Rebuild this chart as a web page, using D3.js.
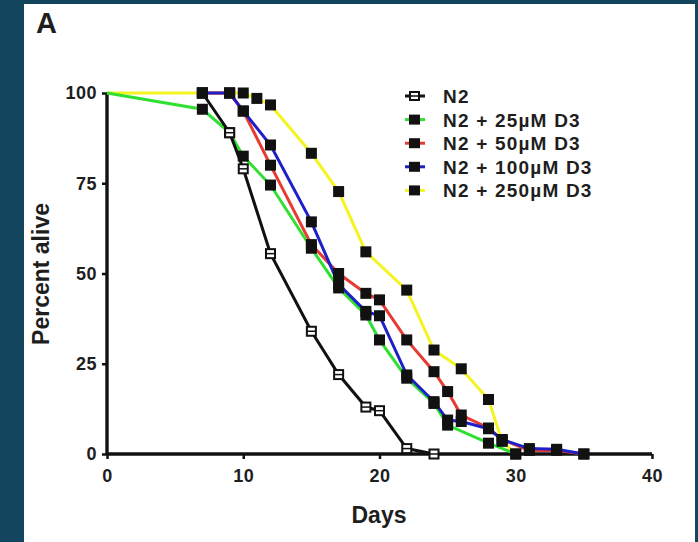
<!DOCTYPE html>
<html>
<head>
<meta charset="utf-8">
<script src="https://cdn.jsdelivr.net/npm/d3@7"></script>
<style>
  body { margin: 0; background: #14455f; }
  svg { display: block; }
  text { font-family: "Liberation Sans", Arial, sans-serif; font-weight: bold; fill: #1e1e1e; }
</style>
</head>
<body>
<div id="container"></div>
<script>
// survival data (day, percent alive)
const seriesNames = ['N2', 'N2 + 25\u00b5M D3', 'N2 + 50\u00b5M D3', 'N2 + 100\u00b5M D3', 'N2 + 250\u00b5M D3'];
const seriesColors = ['#111111', '#30e030', '#e63a32', '#1f1fc8', '#f4f420'];

const n2 = [[7,100],[9,89],[10,79],[12,55.5],[15,34],[17,22],[19,13],[20,12],[22,1.5],[24,0]];
const d3_25 = [[0,100],[7,95.5],[9,89],[10,82.5],[12,74.5],[15,57],[17,46],[19,38.5],[20,31.6],[22,21],[24,14],[25,8],[28,3],[30,0]];
const d3_50 = [[7,100],[9,100],[10,95],[12,80],[15,58],[17,50],[19,44.5],[20,42.7],[22,31.6],[24,22.8],[25,17.3],[26,10.8],[28,7.2],[29,4],[31,1],[33,1],[35,0]];
const d3_100 = [[7,100],[9,100],[10,95],[12,85.6],[15,64.3],[17,47],[19,39.5],[20,38.3],[22,21.9],[24,14.5],[25,9.4],[26,9],[28,7],[29,4],[31,1.5],[33,1.3],[35,0]];
const d3_250 = [[0,100],[7,100],[9,100],[10,100],[11,98.5],[12,96.7],[15,83.3],[17,72.7],[19,56],[22,45.4],[24,28.8],[26,23.6],[28,15.1],[29,3.5],[30,0]];

const xTicks = [0, 10, 20, 30, 40];
const yTicks = [0, 25, 50, 75, 100];

const allSeries = [n2, d3_25, d3_50, d3_100, d3_250];
const drawOrder = [4, 2, 1, 0, 3];

const W = 698, H = 542;
const svg = d3.select('#container').append('svg')
  .attr('width', W).attr('height', H);

// white panel on the dark slide background
svg.append('rect')
  .attr('x', 24).attr('y', 4)
  .attr('width', 671).attr('height', H - 4)
  .attr('fill', '#ffffff');

const x = d3.scaleLinear().domain([0, 40]).range([107, 652]);
const y = d3.scaleLinear().domain([0, 100]).range([454, 93]);

// axes
const xAxis = svg.append('g')
  .attr('transform', `translate(0,${y(0)})`)
  .call(d3.axisBottom(x).tickValues(xTicks).tickSize(5).tickPadding(10));
const yAxis = svg.append('g')
  .attr('transform', `translate(${x(0)},0)`)
  .call(d3.axisLeft(y).tickValues(yTicks).tickSize(5).tickPadding(5));

[xAxis, yAxis].forEach(g => {
  g.select('.domain').attr('stroke', '#111').attr('stroke-width', 3.4);
  g.selectAll('.tick line').attr('stroke', '#111').attr('stroke-width', 2.5);
  g.selectAll('.tick text')
    .attr('fill', '#1e1e1e')
    .style('font-size', '18px')
    .style('letter-spacing', '0.5px')
    .style('font-family', '"Liberation Sans", Arial, sans-serif')
    .style('font-weight', 'bold');
});
xAxis.selectAll('.domain').attr('d', `M${x(0)},0H${x(40)}`);
yAxis.selectAll('.domain').attr('d', `M0,${y(100)}V${y(0)}`);

// lines
const line = d3.line().x(d => x(d[0])).y(d => y(d[1]));
drawOrder.forEach(i => {
  svg.append('path')
    .datum(allSeries[i])
    .attr('fill', 'none')
    .attr('stroke', seriesColors[i])
    .attr('stroke-width', 3)
    .attr('d', line);
});

// markers (no marker at day 0)
const ms = 11;
drawOrder.forEach(i => {
  const pts = allSeries[i].filter(d => d[0] > 0);
  const g = svg.append('g');
  if (i === 0) {
    g.selectAll('rect').data(pts).join('rect')
      .attr('x', d => x(d[0]) - ms / 2 + 1).attr('y', d => y(d[1]) - ms / 2 + 1)
      .attr('width', ms - 2).attr('height', ms - 2)
      .attr('fill', '#fff').attr('stroke', '#111').attr('stroke-width', 2);
    g.selectAll('line').data(pts).join('line')
      .attr('x1', d => x(d[0]) - ms / 2 + 1).attr('x2', d => x(d[0]) + ms / 2 - 1)
      .attr('y1', d => y(d[1])).attr('y2', d => y(d[1]))
      .attr('stroke', '#111').attr('stroke-width', 1.5);
  } else {
    g.selectAll('rect').data(pts).join('rect')
      .attr('x', d => x(d[0]) - ms / 2).attr('y', d => y(d[1]) - ms / 2)
      .attr('width', ms).attr('height', ms)
      .attr('fill', '#111');
  }
});

// legend
const legend = svg.append('g');
seriesNames.forEach((name, i) => {
  const ly = 96 + i * 23.6;
  legend.append('line')
    .attr('x1', 405).attr('x2', 425).attr('y1', ly).attr('y2', ly)
    .attr('stroke', seriesColors[i]).attr('stroke-width', 3);
  if (i === 0) {
    legend.append('rect').attr('x', 410).attr('y', ly - 4).attr('width', 9).attr('height', 8)
      .attr('fill', '#fff').attr('stroke', '#111').attr('stroke-width', 2);
    legend.append('line').attr('x1', 410).attr('x2', 419).attr('y1', ly).attr('y2', ly)
      .attr('stroke', '#111').attr('stroke-width', 1.5);
  } else {
    legend.append('rect').attr('x', 409).attr('y', ly - 5).attr('width', 11).attr('height', 10)
      .attr('fill', '#111');
  }
  legend.append('text')
    .attr('x', 443).attr('y', ly + 7)
    .style('font-size', '19px')
    .style('letter-spacing', '1.2px')
    .text(name);
});

// titles
svg.append('text')
  .attr('x', 36).attr('y', 33)
  .style('font-size', '29px')
  .text('A');

svg.append('text')
  .attr('x', 379).attr('y', 523)
  .attr('text-anchor', 'middle')
  .style('font-size', '23px')
  .text('Days');

svg.append('text')
  .attr('transform', 'translate(49,274) rotate(-90)')
  .attr('text-anchor', 'middle')
  .style('font-size', '23px')
  .text('Percent alive');
</script>
</body>
</html>
